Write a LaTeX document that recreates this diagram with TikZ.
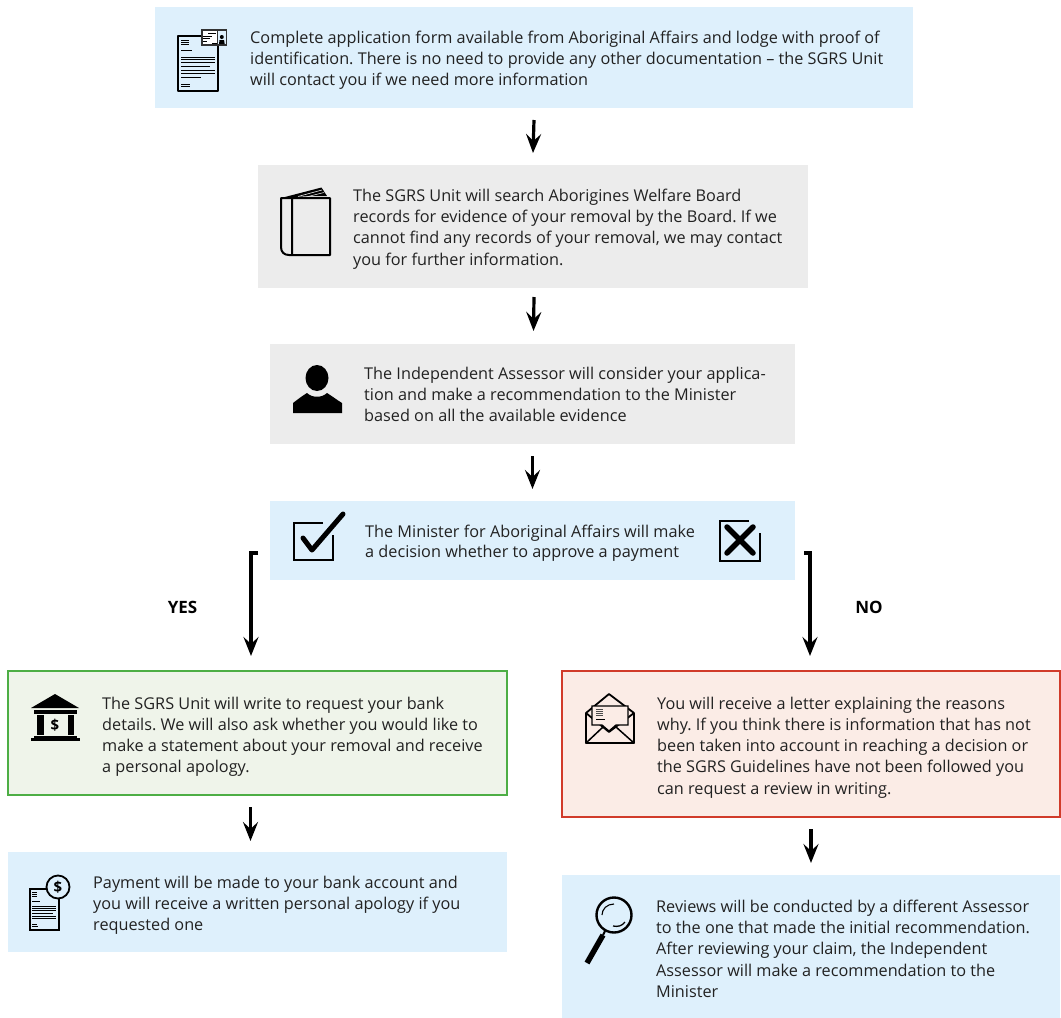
\documentclass[tikz,border=0pt]{standalone}
\usepackage{fontspec}
\setmainfont{Open Sans}
\usetikzlibrary{arrows.meta,calc}
\definecolor{bblue}{HTML}{DEF0FC}
\definecolor{bgray}{HTML}{ECECEC}
\definecolor{bgreen}{HTML}{EFF4EA}
\definecolor{bred}{HTML}{FBECE6}
\definecolor{lgreen}{HTML}{4DAE45}
\definecolor{lred}{HTML}{D13B2A}
\definecolor{ink}{HTML}{222222}
\tikzset{
 panel/.style={inner sep=0pt,outer sep=0pt},
 pblue/.style={panel,fill=bblue},
 pgray/.style={panel,fill=bgray},
 pgreen/.style={panel,fill=bgreen,draw=lgreen,line width=2pt},
 pred/.style={panel,fill=bred,draw=lred,line width=2pt},
 copytext/.style={anchor=north west,inner sep=0pt,align=left,text=ink,font=\fontsize{16.25}{21.3}\selectfont},
 tag/.style={inner sep=0pt,text=black,font=\fontsize{17}{17}\selectfont\bfseries},
 flow/.style={line width=3.2pt,black,-{Stealth[length=19pt,width=15pt,inset=7pt]}},
 icon/.style={line width=1.8pt,black,line cap=round,line join=round},
 fine/.style={line width=1pt,black},
 money/.style={inner sep=0pt,font=\fontsize{15}{15}\selectfont\bfseries,text=black},
}
\begin{document}
\frenchspacing
\begin{tikzpicture}[x=1pt,y=-1pt]
\useasboundingbox (0,0) rectangle (1061,1018);
% panels
\node[pblue,minimum width=758pt,minimum height=101pt] (b1) at (534,57.5) {};
\node[pgray,minimum width=550pt,minimum height=123pt] (b2) at (533,226.5) {};
\node[pgray,minimum width=525pt,minimum height=100pt] (b3) at (532.5,394) {};
\node[pblue,minimum width=525pt,minimum height=79pt] (b4) at (532.5,540.5) {};
\node[pgreen,minimum width=499pt,minimum height=124pt] (yesb) at (257.5,733) {};
\node[pred,minimum width=498pt,minimum height=146pt] (nob) at (811,744) {};
\node[pblue,minimum width=499pt,minimum height=100pt] (payb) at (257.5,902) {};
\node[pblue,minimum width=498pt,minimum height=143pt] (revb) at (811,946.5) {};
% text
\node[copytext] (t1) at (250,30.5) {Complete application form available from Aboriginal Affairs and lodge with proof of\\identification. There is no need to provide any other documentation -- the SGRS Unit\\will contact you if we need more information};
\node[copytext] (t2) at (353,188.5) {The SGRS Unit will search Aborigines Welfare Board\\records for evidence of your removal by the Board. If we\\cannot find any records of your removal, we may contact\\you for further information.};
\node[copytext] (t3) at (364,366.5) {The Independent Assessor will consider your applica-\\tion and make a recommendation to the Minister\\based on all the available evidence};
\node[copytext,font=\fontsize{16.25}{20.5}\selectfont] (t4) at (365,524.5) {The Minister for Aboriginal Affairs will make\\a decision whether to approve a payment};
\node[copytext] (t5) at (102,696.5) {The SGRS Unit will write to request your bank\\details. We will also ask whether you would like to\\make a statement about your removal and receive\\a personal apology.};
\node[copytext] (t6) at (657,696.5) {You will receive a letter explaining the reasons\\why. If you think there is information that has not\\been taken into account in reaching a decision or\\the SGRS Guidelines have not been followed you\\can request a review in writing.};
\node[copytext] (t7) at (93,875.5) {Payment will be made to your bank account and\\you will receive a written personal apology if you\\requested one};
\node[copytext] (t8) at (656,899.5) {Reviews will be conducted by a different Assessor\\to the one that made the initial recommendation.\\After reviewing your claim, the Independent\\Assessor will make a recommendation to the\\Minister};
\node[tag] (yes) at (182.5,607) {YES};
\node[tag] (no) at (869,607) {NO};
% connectors
\draw[flow] ([yshift=-12pt]b1.south) -- ([yshift=12pt]b2.north);
\draw[flow] ([xshift=1pt,yshift=-9pt]b2.south) -- ([xshift=1pt,yshift=13pt]b3.north);
\draw[flow] ([yshift=-12pt]b3.south) -- ([yshift=12pt]b4.north);
\coordinate (yesstart) at (258,553);
\coordinate (nostart) at (804,553);
\draw[flow] (yesstart) -- (251,553) -- ([xshift=-6.5pt,yshift=15pt]yesb.north);
\draw[flow] (nostart) -- (810,553) -- ([xshift=-1pt,yshift=15pt]nob.north);
\draw[flow] ([xshift=-7pt,yshift=-12pt]yesb.south) -- ([xshift=-7pt,yshift=11pt]payb.north);
\draw[flow] ([yshift=-12pt]nob.south) -- ([yshift=12pt]revb.north);
% icon: form and id card
\draw[icon] (201,36) -- (178,36) -- (178,91) -- (218,91) -- (218,46);
\foreach \ya/\xb in {40/189,42/189,44/189,50.5/192,57/215,59.5/215,62/215,66/210,70.5/215,73/215,77/201,84/190,86/190}
  \draw[fine] (181,\ya) -- (\xb,\ya);
\fill[black!80] (201,29) rectangle (227,46);
\fill[white] (203,31) rectangle (217,43.5);
\fill[bblue] (218,31) rectangle (225.5,44);
\fill[black] (221.8,37) circle (2);
\fill[black] (219,44) -- (219.5,40) -- (224,40) -- (224.7,44) -- cycle;
\foreach \ya/\xa/\xb in {33/208/216,36/203/212,38.5/203/210,41/203/207,43/212/217}
  \draw[line width=1pt,black] (\xa,\ya) -- (\xb,\ya);
% icon: book
\draw[icon,line width=2pt] (292,198) -- (330,198) -- (330,255) -- (289,255) .. controls (284,255) and (281,252) .. (281,247) -- (281,198) -- (292,198) -- (292,255);
\fill[black] (281,198) -- (321.5,187.5) -- (327,196) -- (310,196) -- cycle;
\draw[line width=.6pt,bgray] (298,196.5) -- (322,190);
\draw[line width=.5pt,bgray] (308,196.5) -- (324,192.5);
% icon: person
\fill[black] (317,378) ellipse (11.5 and 13);
\fill[black] (293,413) -- (293,403) .. controls (297,400) and (302,396) .. (307,393) .. controls (312,398) and (322,398) .. (327,393) .. controls (332,396) and (337,400) .. (342,403) -- (342,413) -- cycle;
% icon: approve
\draw[icon,line width=2.6pt,line cap=butt,line join=miter] (323,523) -- (294,523) -- (294,560) -- (333,560) -- (333,535);
\draw[black,line width=5pt,line cap=round,line join=round] (303,538) -- (312,550) -- (343,514);
% icon: decline
\draw[icon,line width=2.6pt,line cap=butt,line join=miter] (749,521) -- (720,521) -- (720,561) -- (760,561) -- (760,533);
\draw[black,line width=5.5pt,line cap=round] (727,527) -- (753,553);
\draw[black,line width=5.5pt,line cap=round] (753,527) -- (727,553);
% icon: bank
\fill[black] (55,694) -- (79,708) -- (31,708) -- cycle;
\fill[black] (34,710) rectangle (77,714);
\fill[black] (37,715) rectangle (43.5,735);
\fill[black] (68,715) rectangle (74,735);
\fill[black] (34,736) rectangle (77,738);
\fill[black] (31,738) rectangle (80,741);
\node[money] (bankd) at (55,725) {\$};
% icon: payment
\draw[line width=1.4pt,black] (46,889) -- (30,889) -- (30,930) -- (59,930) -- (59,898);
\foreach \ya/\xb in {892/37,894/37,896/37,901/40,906/56,908/56,910/56,913/53,916/56,918/56,924/37,926/38}
  \draw[fine,line width=.8pt] (32,\ya) -- (\xb,\ya);
\node[draw=black,line width=1.8pt,fill=bblue,circle,minimum size=23pt,inner sep=0pt,font=\fontsize{15}{15}\selectfont\bfseries] (payd) at (58,887) {\$};
% icon: envelope
\draw[icon,line width=1.8pt,line cap=butt] (586,713) -- (586,743) -- (634,743) -- (634,713) -- (609,732) -- (586,713) -- (609,694) -- (634,713);
\draw[icon,line width=1.5pt] (586,743) -- (603,727);
\draw[icon,line width=1.5pt] (634,743) -- (616,727);
\draw[line width=1.3pt,black,fill=bred] (592,706) -- (628,706) -- (628,725) -- (616,725) -- (609,731) -- (602,725) -- (592,725) -- cycle;
\foreach \ya in {709,711,713,715} \draw[fine,black!70] (596,\ya) -- (603,\ya);
\draw[fine] (596,719) -- (605,719);
% icon: magnifier
\draw[black,line width=2.4pt] (614,915) circle (17.5);
\draw[black,line width=1.1pt] (602,915) .. controls (602,909) and (607,904) .. (614,904);
\draw[black,line width=1.3pt] (613,926) .. controls (618,927) and (622,926) .. (625,922);
\draw[black,line width=2pt] (605,931) -- (603,935);
\draw[black,line width=5.5pt] (603,935) -- (587,963);
\end{tikzpicture}
\end{document}
